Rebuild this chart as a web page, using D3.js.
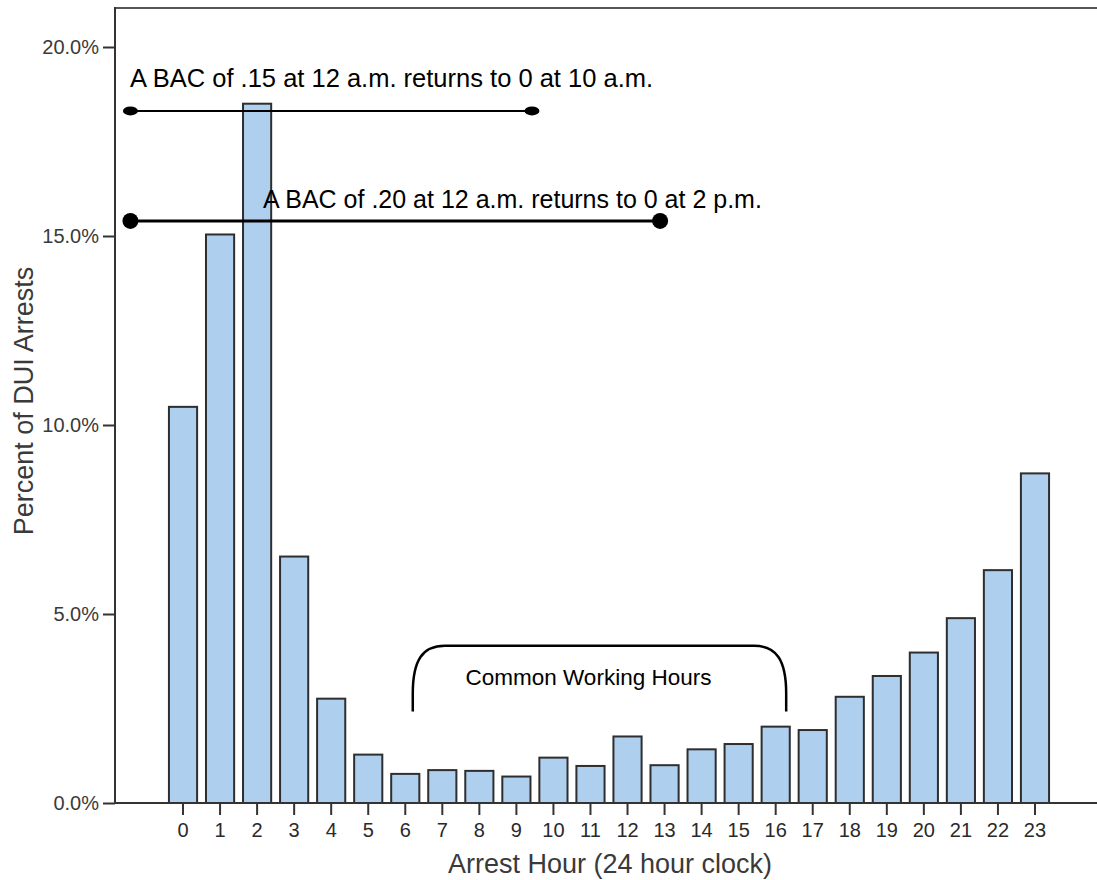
<!DOCTYPE html>
<html>
<head>
<meta charset="utf-8">
<script src="https://cdn.jsdelivr.net/npm/d3@7"></script>
<style>
  body { margin: 0; background: #fff; }
  text { font-family: "Liberation Sans", Arial, sans-serif; }
</style>
</head>
<body>
<div id="chart"></div>
<script>
const hours = [0, 1, 2, 3, 4, 5, 6, 7, 8, 9, 10, 11, 12, 13, 14, 15, 16, 17, 18, 19, 20, 21, 22, 23];
const percents = [10.48, 15.04, 18.5, 6.52, 2.76, 1.28, 0.77, 0.87, 0.85, 0.70, 1.2, 0.98,
                  1.76, 1.0, 1.42, 1.56, 2.02, 1.93, 2.81, 3.36, 3.98, 4.89, 6.16, 8.72];
const yTicks = [0, 5, 10, 15, 20];

// BAC annotation lines (hour positions, level in %)
const bacLabels = ['A BAC of .15 at 12 a.m. returns to 0 at 10 a.m.', 'A BAC of .20 at 12 a.m. returns to 0 at 2 p.m.'];
const bacFrom = [-1.42, -1.42];
const bacTo = [9.42, 12.88];
const bacLevel = [18.31, 15.4];
const bacLabelHour = [-1.43, 2.16];
const bacLabelLevel = [18.94, 15.74];
const bacFontSize = [25.5, 25];

const workStart = 6, workEnd = 16;

const svgWidth = 1097, svgHeight = 880;
const margin = { top: 7, left: 115, bottom: 77 };
const plotBottom = svgHeight - margin.bottom;

const svg = d3.select('#chart').append('svg')
    .attr('width', svgWidth)
    .attr('height', svgHeight);

const x = d3.scaleBand().domain(hours).range([164.5, 1053.5]).paddingInner(0.24).paddingOuter(0.12);
const y = d3.scaleLinear().domain([0, 20]).range([plotBottom, 47]);
const hx = d3.scaleLinear().domain([0, 23]).range([x(0) + x.bandwidth() / 2, x(23) + x.bandwidth() / 2]);

// bars
svg.selectAll('.bar')
    .data(hours)
    .enter().append('rect')
    .attr('class', 'bar')
    .attr('x', d => x(d))
    .attr('y', (d, i) => y(percents[i]))
    .attr('width', x.bandwidth())
    .attr('height', (d, i) => plotBottom - y(percents[i]))
    .attr('fill', '#aecfee')
    .attr('stroke', '#2e2e2e')
    .attr('stroke-width', 2);

// frame top line
svg.append('line')
    .attr('x1', margin.left).attr('x2', svgWidth)
    .attr('y1', margin.top + 1).attr('y2', margin.top + 1)
    .attr('stroke', '#555').attr('stroke-width', 2);

// y axis
const yAxis = svg.append('g')
    .attr('transform', `translate(${margin.left},0)`)
    .call(d3.axisLeft(y).tickValues(yTicks).tickSize(12).tickPadding(4).tickFormat(d => d.toFixed(1) + '%'));
yAxis.select('.domain').attr('d', `M0,${margin.top}V${plotBottom}`).attr('stroke', '#333').attr('stroke-width', 2);
yAxis.selectAll('.tick line').attr('stroke', '#333').attr('stroke-width', 2);
yAxis.selectAll('.tick text').attr('font-size', 20).attr('fill', '#3a3a3a').attr('font-family', '"Liberation Sans", Arial, sans-serif');

// x axis
const xAxis = svg.append('g')
    .attr('transform', `translate(0,${plotBottom})`)
    .call(d3.axisBottom(x).tickSize(12).tickPadding(8));
xAxis.select('.domain').attr('d', `M${margin.left},0H${svgWidth}`).attr('stroke', '#333').attr('stroke-width', 2);
xAxis.selectAll('.tick line').attr('stroke', '#333').attr('stroke-width', 2);
xAxis.selectAll('.tick text').attr('font-size', 20).attr('fill', '#2a2a2a').attr('font-family', '"Liberation Sans", Arial, sans-serif');

// axis titles
svg.append('text')
    .attr('x', 610).attr('y', 873)
    .attr('text-anchor', 'middle')
    .attr('font-size', 27).attr('fill', '#3a3a3a')
    .text('Arrest Hour (24 hour clock)');

svg.append('text')
    .attr('transform', 'translate(33,401) rotate(-90)')
    .attr('text-anchor', 'middle')
    .attr('font-size', 27).attr('fill', '#3a3a3a')
    .text('Percent of DUI Arrests');

// BAC annotations
bacLabels.forEach((label, i) => {
    const g = svg.append('g');
    g.append('line')
        .attr('x1', hx(bacFrom[i])).attr('x2', hx(bacTo[i]))
        .attr('y1', y(bacLevel[i])).attr('y2', y(bacLevel[i]))
        .attr('stroke', '#000').attr('stroke-width', i === 0 ? 2 : 3);
    [bacFrom[i], bacTo[i]].forEach(h => {
        g.append('ellipse')
            .attr('cx', hx(h)).attr('cy', y(bacLevel[i]))
            .attr('rx', i === 0 ? 7.5 : 8).attr('ry', i === 0 ? 4.5 : 8)
            .attr('fill', '#000');
    });
    g.append('text')
        .attr('x', hx(bacLabelHour[i])).attr('y', y(bacLabelLevel[i]))
        .attr('font-size', bacFontSize[i]).attr('fill', '#000')
        .text(label);
});

// working hours bracket
const bl = hx(workStart) + 7.5, br = hx(workEnd) + 10.5;
const bBottom = y(2.42), bTop = y(4.16);
svg.append('path')
    .attr('d', `M${bl},${bBottom} L${bl},${bBottom - 18} C${bl},${bTop + 14} ${bl + 10},${bTop} ${bl + 32},${bTop}
                L${br - 32},${bTop} C${br - 10},${bTop} ${br},${bTop + 14} ${br},${bBottom - 18} L${br},${bBottom}`)
    .attr('fill', 'none').attr('stroke', '#000').attr('stroke-width', 2.5);

svg.append('text')
    .attr('x', (bl + br) / 2 - 11).attr('y', bTop + 39)
    .attr('text-anchor', 'middle')
    .attr('font-size', 22.5).attr('fill', '#000')
    .text('Common Working Hours');
</script>
</body>
</html>
